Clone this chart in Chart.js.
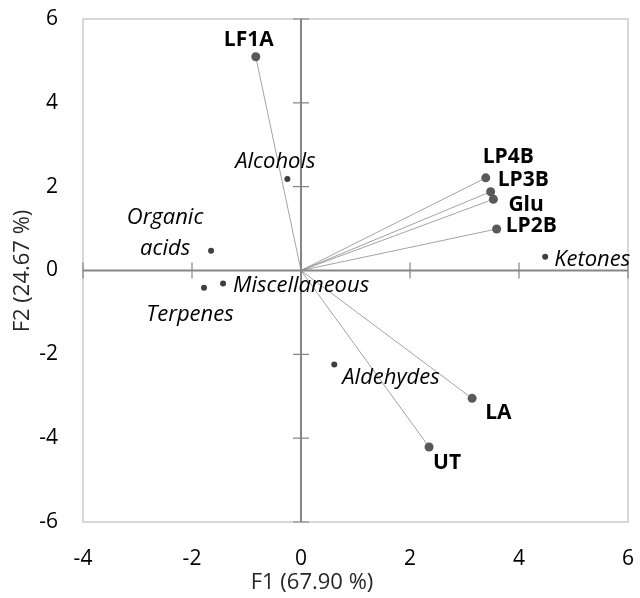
<!DOCTYPE html>
<html>
<head>
<meta charset="utf-8">
<script src="https://cdn.jsdelivr.net/npm/chart.js@4/dist/chart.umd.min.js"></script>
<style>
  body { margin: 0; background: #fff; }
</style>
</head>
<body>
<canvas id="biplot" width="640" height="598"></canvas>
<script>
// observaciones (puntos con vector desde el origen)
const obsNames = ['LF1A', 'LP4B', 'LP3B', 'Glu', 'LP2B', 'LA', 'UT'];
const obsF1 = [-0.83, 3.39, 3.48, 3.53, 3.59, 3.14, 2.35];
const obsF2 = [5.10, 2.21, 1.88, 1.70, 0.99, -3.05, -4.21];

// variables (grupos de compuestos)
const varNames = ['Alcohols', 'Organic\nacids', 'Miscellaneous', 'Terpenes', 'Ketones', 'Aldehydes'];
const varF1 = [-0.25, -1.65, -1.43, -1.78, 4.48, 0.61];
const varF2 = [2.18, 0.47, -0.31, -0.41, 0.33, -2.24];

const xTicks = [-4, -2, 0, 2, 4, 6];
const yTicks = [-6, -4, -2, 0, 2, 4, 6];
const xTitle = 'F1 (67.90 %)';
const yTitle = 'F2 (24.67 %)';

// posicion de las etiquetas respecto al punto (px): dx, dy (linea base), alineacion
const obsLabelPos = {
  'LF1A': [-7, -11, 'center'],
  'LP4B': [-3, -15, 'left'],
  'LP3B': [7, -6, 'left'],
  'Glu': [15, 12, 'left'],
  'LP2B': [9, 3, 'left'],
  'LA': [13, 21, 'left'],
  'UT': [4, 22, 'left']
};
const varLabelPos = {
  'Alcohols': [-12, -11, 'center'],
  'Organic\nacids': [-46, -27, 'center'],
  'Miscellaneous': [10, 9, 'left'],
  'Terpenes': [-14, 33, 'center'],
  'Ketones': [9, 9, 'left'],
  'Aldehydes': [8, 20, 'left']
};

const FONT = '"Open Sans", "DejaVu Sans", sans-serif';

const obsPoints = obsNames.map((n, i) => ({ x: obsF1[i], y: obsF2[i] }));
const varPoints = varNames.map((n, i) => ({ x: varF1[i], y: varF2[i] }));

const datasets = [
  {
    label: 'obs',
    data: obsPoints,
    pointRadius: 4.5,
    pointBackgroundColor: '#595959',
    pointBorderWidth: 0,
    order: 0
  },
  {
    label: 'vars',
    data: varPoints,
    pointRadius: 3,
    pointBackgroundColor: '#3f3f3f',
    pointBorderWidth: 0,
    order: 0
  }
];
// vectores desde el origen
obsPoints.forEach(p => {
  datasets.push({
    data: [{ x: 0, y: 0 }, p],
    showLine: true,
    pointRadius: 0,
    borderColor: '#8c8c8c',
    borderWidth: 0.8,
    order: 5
  });
});

const sinPadding = s => {
  s.paddingTop = 0; s.paddingBottom = 0; s.paddingLeft = 0; s.paddingRight = 0;
};

const biplotPlugin = {
  id: 'biplot',
  beforeDatasetsDraw(chart) {
    const { ctx, chartArea: a, scales: { x, y } } = chart;
    ctx.save();
    // marco
    ctx.strokeStyle = '#cccccc';
    ctx.lineWidth = 1.5;
    ctx.strokeRect(a.left, a.top, a.right - a.left, a.bottom - a.top);
    // ejes en cero
    const x0 = x.getPixelForValue(0);
    const y0 = y.getPixelForValue(0);
    ctx.strokeStyle = '#868686';
    ctx.lineWidth = 2;
    ctx.beginPath();
    ctx.moveTo(x0, a.top); ctx.lineTo(x0, a.bottom);
    ctx.moveTo(a.left, y0); ctx.lineTo(a.right, y0);
    ctx.stroke();
    ctx.lineWidth = 1.2;
    ctx.beginPath();
    yTicks.forEach(v => {
      const py = y.getPixelForValue(v);
      ctx.moveTo(x0 - 8, py); ctx.lineTo(x0 + 8, py);
    });
    xTicks.forEach(v => {
      const px = x.getPixelForValue(v);
      ctx.moveTo(px, y0 - 8); ctx.lineTo(px, y0 + 8);
    });
    ctx.stroke();
    ctx.restore();
  },
  afterDatasetsDraw(chart) {
    const { ctx, scales: { x, y } } = chart;
    ctx.save();
    ctx.fillStyle = '#000';
    ctx.textBaseline = 'alphabetic';
    ctx.font = 'bold 21px ' + FONT;
    obsNames.forEach((n, i) => {
      const pos = obsLabelPos[n];
      ctx.textAlign = pos[2];
      ctx.fillText(n, x.getPixelForValue(obsF1[i]) + pos[0], y.getPixelForValue(obsF2[i]) + pos[1]);
    });
    ctx.font = 'italic 22px ' + FONT;
    varNames.forEach((n, i) => {
      const pos = varLabelPos[n];
      ctx.textAlign = pos[2];
      n.split('\n').forEach((line, k) => {
        ctx.fillText(line, x.getPixelForValue(varF1[i]) + pos[0], y.getPixelForValue(varF2[i]) + pos[1] + k * 31);
      });
    });
    // titulos de ejes
    ctx.font = '22px ' + FONT;
    ctx.textAlign = 'center';
    ctx.textBaseline = 'middle';
    ctx.fillStyle = '#262626';
    ctx.fillText(xTitle, 312, 583);
    ctx.translate(23, 271);
    ctx.rotate(-Math.PI / 2);
    ctx.fillText(yTitle, 0, 0);
    ctx.restore();
  }
};

new Chart(document.getElementById('biplot'), {
  type: 'scatter',
  data: { datasets: datasets },
  options: {
    responsive: false,
    animation: false,
    layout: { padding: { top: 19, right: 12, left: 0, bottom: 0 } },
    plugins: {
      legend: { display: false },
      tooltip: { enabled: false }
    },
    scales: {
      x: {
        type: 'linear',
        min: -4,
        max: 6,
        afterBuildTicks: s => { s.ticks = xTicks.map(v => ({ value: v })); },
        grid: { display: false, drawTicks: false },
        border: { display: false },
        ticks: { color: '#000', padding: 24, maxRotation: 0, font: { family: FONT, size: 21 } },
        afterFit: s => { s.height = 76; sinPadding(s); }
      },
      y: {
        type: 'linear',
        min: -6,
        max: 6,
        afterBuildTicks: s => { s.ticks = yTicks.map(v => ({ value: v })); },
        grid: { display: false, drawTicks: false },
        border: { display: false },
        ticks: { color: '#000', padding: 25, font: { family: FONT, size: 21 } },
        afterFit: s => { s.width = 83; sinPadding(s); }
      }
    }
  },
  plugins: [biplotPlugin]
});
</script>
</body>
</html>
